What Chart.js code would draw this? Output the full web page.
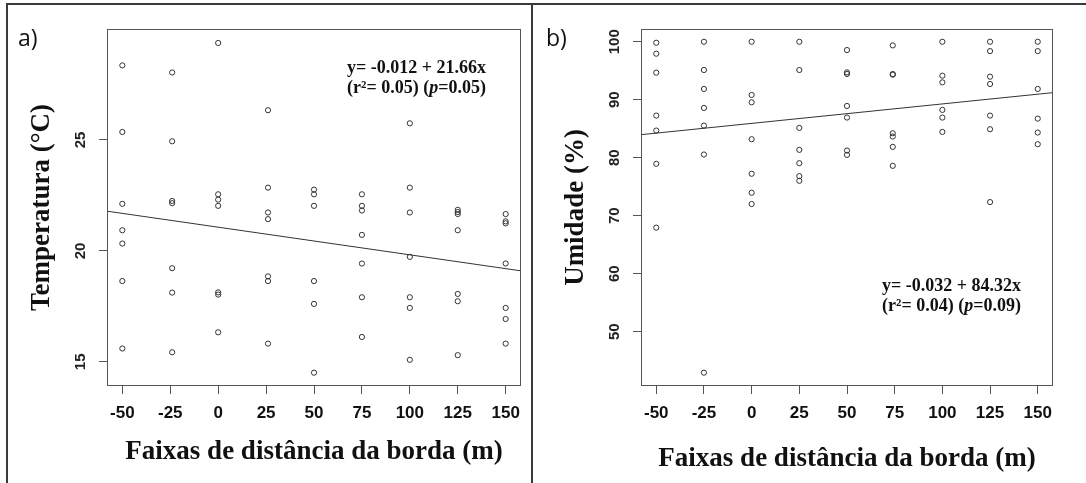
<!DOCTYPE html>
<html><head><meta charset="utf-8">
<script src="https://cdn.jsdelivr.net/npm/chart.js@4.4.1/dist/chart.umd.min.js"></script>
<style>
html,body{margin:0;padding:0;background:#fff;}
body{width:1086px;height:483px;position:relative;overflow:hidden;}
canvas{position:absolute;top:0;}
.ln{position:absolute;background:#3a3a3a;z-index:2;}
.lbl{position:absolute;font-family:"Open Sans";font-size:23px;color:#111;line-height:24px;}
.eq{position:absolute;font-family:"Liberation Serif";font-weight:bold;font-size:18px;line-height:20px;color:#111;white-space:nowrap;z-index:3;}
</style></head><body>
<canvas id="ca" width="533" height="483" style="left:0;width:533px;height:483px"></canvas>
<canvas id="cb" width="553" height="483" style="left:533px;width:553px;height:483px"></canvas>
<div class="ln" style="left:6px;top:3px;width:1080px;height:2px"></div>
<div class="ln" style="left:6px;top:3px;width:2px;height:480px"></div>
<div class="ln" style="left:531px;top:3px;width:2px;height:480px"></div>
<div class="lbl" style="left:18px;top:25px">a)</div>
<div class="lbl" style="left:546px;top:25px">b)</div>
<div class="eq" style="left:347px;top:57px">y= -0.012 + 21.66x<br>(r²= 0.05) (<i>p</i>=0.05)</div>
<div class="eq" style="left:882px;top:275px">y= -0.032 + 84.32x<br>(r²= 0.04) (<i>p</i>=0.09)</div>
<script>
// ---- data ----
const xTickValues = [-50, -25, 0, 25, 50, 75, 100, 125, 150];
const xTickLabels = ['-50', '-25', '0', '25', '50', '75', '100', '125', '150'];

const tempYTickValues = [15, 20, 25];
const tempYTickLabels = ['15', '20', '25'];
const humYTickValues = [50, 60, 70, 80, 90, 100];
const humYTickLabels = ['50', '60', '70', '80', '90', '100'];

const tempX = [
  -50,-50,-50,-50,-50,-50,-50,
  -24,-24,-24,-24,-24,-24,-24,
  0,0,0,0,0,0,0,
  26,26,26,26,26,26,26,
  50,50,50,50,50,50,
  75,75,75,75,75,75,75,
  100,100,100,100,100,100,100,
  125,125,125,125,125,125,125,
  150,150,150,150,150,150,150];
const tempY = [
  28.36,25.36,22.12,20.93,20.33,18.64,15.60,
  28.04,24.94,22.25,22.15,19.22,18.12,15.43,
  29.37,22.55,22.31,22.03,18.13,18.03,16.33,
  26.34,22.85,21.73,21.43,18.85,18.64,15.82,
  22.76,22.55,22.03,18.64,17.61,14.51,
  22.55,22.03,21.82,20.72,19.43,17.91,16.12,
  25.75,22.85,21.73,19.73,17.91,17.43,15.09,
  21.85,21.75,21.66,20.93,18.06,17.73,15.30,
  21.66,21.33,21.24,19.43,17.43,16.93,15.82];
const tempLineX = [-58, 158];
const tempLineY = [21.79, 19.10];

const humX = [
  -50,-50,-50,-50,-50,-50,-50,
  -25,-25,-25,-25,-25,-25,-25,
  0,0,0,0,0,0,0,
  25,25,25,25,25,25,25,
  50,50,50,50,50,50,50,
  74,74,74,74,74,74,74,
  100,100,100,100,100,100,
  125,125,125,125,125,125,125,
  150,150,150,150,150,150];
const humY = [
  99.83,97.94,94.67,87.27,84.69,78.96,67.95,
  100,95.13,91.86,88.59,85.55,80.56,42.95,
  100,90.83,89.56,83.20,77.24,73.97,72.02,
  100,95.13,85.15,81.36,79.07,76.83,76.03,
  98.57,94.72,94.44,88.93,86.93,81.25,80.50,
  99.37,94.44,94.32,84.23,83.66,81.88,78.61,
  100,94.15,93.00,88.25,86.93,84.46,
  100,98.39,93.98,92.72,87.27,84.92,72.36,
  100,98.39,91.86,86.75,84.35,82.34];
const humLineX = [-58, 158];
const humLineY = [83.98, 91.23];

// ---- chart builder ----
const AX = '#555';
const boxAndYLabels = {
  id: 'boxAndYLabels',
  afterDraw(chart, args, opts) {
    const ctx = chart.ctx, a = chart.chartArea, ys = chart.scales.y;
    ctx.save();
    ctx.strokeStyle = AX; ctx.lineWidth = 1;
    ctx.strokeRect(Math.round(a.left) + 0.5, Math.round(a.top) + 0.5,
      Math.round(a.right - a.left) - 1, Math.round(a.bottom - a.top) - 1);
    ctx.fillStyle = '#222';
    ctx.font = 'bold 15px "Liberation Sans"';
    ctx.textAlign = 'center'; ctx.textBaseline = 'middle';
    opts.values.forEach((v, i) => {
      const py = ys.getPixelForValue(v);
      ctx.save();
      ctx.translate(a.left - 26, py);
      ctx.rotate(-Math.PI / 2);
      ctx.fillText(opts.labels[i], 0, 0);
      ctx.restore();
    });
    ctx.restore();
  }
};

function makeChart(id, c) {
  const pts = c.xs.map((x, i) => ({x: x, y: c.ys[i]}));
  const line = c.lx.map((x, i) => ({x: x, y: c.ly[i]}));
  return new Chart(document.getElementById(id), {
    type: 'scatter',
    data: {
      datasets: [
        {data: pts, pointStyle: 'circle', pointRadius: 2.6, pointBorderWidth: 1,
         borderColor: '#333', backgroundColor: 'rgba(0,0,0,0)', pointHoverRadius: 2.6},
        {data: line, showLine: true, pointRadius: 0, borderColor: '#333', borderWidth: 1, fill: false}
      ]
    },
    options: {
      responsive: false, animation: false, devicePixelRatio: 1,
      layout: {padding: {left: 0, top: c.padTop, right: c.padRight, bottom: 0}},
      plugins: {legend: {display: false}, tooltip: {enabled: false},
        boxAndYLabels: {values: c.yTickValues, labels: c.yTickLabels}},
      scales: {
        x: {
          type: 'linear', min: -58, max: 158,
          afterBuildTicks: s => { s.ticks = xTickValues.map(v => ({value: v})); },
          afterFit: s => { s.height = 97; },
          grid: {drawOnChartArea: false, drawTicks: true, tickLength: 8, color: AX, lineWidth: 1},
          border: {display: false},
          ticks: {padding: 9, color: '#111', maxRotation: 0, autoSkip: false,
            font: {family: 'Liberation Sans', size: 17, weight: 'bold'},
            callback: (v, i) => xTickLabels[i]},
          title: {display: true, text: 'Faixas de distância da borda (m)', color: '#111',
            font: {family: 'Liberation Serif', size: 27, weight: 'bold'},
            padding: {top: 0, bottom: c.xTitlePad}}
        },
        y: {
          type: 'linear', min: c.yMin, max: c.yMax,
          afterBuildTicks: s => { s.ticks = c.yTickValues.map(v => ({value: v})); },
          afterFit: s => { s.width = c.yWidth; },
          grid: {drawOnChartArea: false, drawTicks: true, tickLength: 8, color: AX, lineWidth: 1},
          border: {display: false},
          ticks: {display: false},
          title: {display: true, text: c.yTitle, color: '#111',
            font: {family: 'Liberation Serif', size: 27, weight: 'bold'},
            padding: {top: c.yTitlePad, bottom: 0}}
        }
      }
    },
    plugins: [boxAndYLabels]
  });
}

makeChart('ca', {xs: tempX, ys: tempY, lx: tempLineX, ly: tempLineY,
  yMin: 13.91, yMax: 30.0, yTickValues: tempYTickValues, yTickLabels: tempYTickLabels,
  yTitle: 'Temperatura (°C)', padTop: 29, padRight: 12, yWidth: 107, yTitlePad: 25.8, xTitlePad: 14.8});
makeChart('cb', {xs: humX, ys: humY, lx: humLineX, ly: humLineY,
  yMin: 40.65, yMax: 102.2, yTickValues: humYTickValues, yTickLabels: humYTickLabels,
  yTitle: 'Umidade (%)', padTop: 29, padRight: 33, yWidth: 108, yTitlePad: 26.8, xTitlePad: 7.8});
</script>
</body></html>
